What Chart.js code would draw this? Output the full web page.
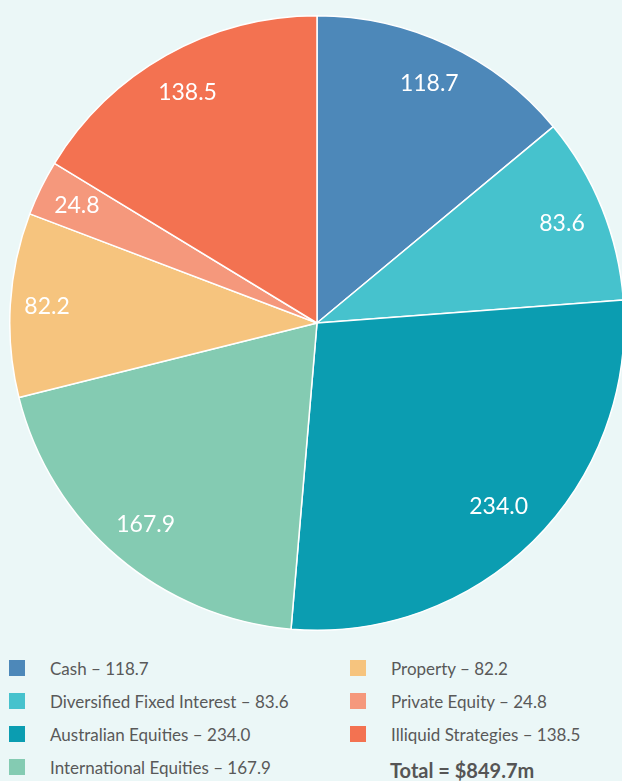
<!DOCTYPE html>
<html>
<head>
<meta charset="utf-8">
<script src="https://cdn.jsdelivr.net/npm/chart.js@4/dist/chart.umd.min.js"></script>
<style>
  html, body { margin: 0; padding: 0; }
  body { width: 622px; height: 781px; background: #ebf7f7; overflow: hidden; position: relative; font-family: Lato, "Open Sans", sans-serif; }
  #pieBox { position: absolute; left: 9px; top: 15px; width: 616px; height: 616px; }
  .leg { position: absolute; display: flex; align-items: center; font-size: 17px; color: #595959; white-space: nowrap; }
  .leg span.sw { display: inline-block; width: 16px; height: 16px; margin-right: 25px; }
  #total { position: absolute; left: 390px; top: 758px; font-size: 20px; font-weight: bold; color: #555; }
</style>
</head>
<body>
<div id="pieBox"><canvas id="canvasPie"></canvas></div>
<div id="legend"></div>
<div id="total"></div>
<script>
var categories = ["Cash", "Diversified Fixed Interest", "Australian Equities", "International Equities", "Property", "Private Equity", "Illiquid Strategies"];
var values = [118.7, 83.6, 234.0, 167.9, 82.2, 24.8, 138.5];
var colours = ["#4d88b9", "#46c2cd", "#0b9db1", "#84cbb2", "#f6c47e", "#f5987c", "#f37251"];
// how far out along the radius each value label sits
var labelRadius = [0.86, 0.86, 0.84, 0.86, 0.88, 0.87, 0.86];
var totalText = "Total = $849.7m";

var myChartPie;

var sliceLabels = {
    id: 'sliceLabels',
    afterDatasetsDraw: function (chart) {
        let ctx = chart.ctx;
        let meta = chart.getDatasetMeta(0);
        ctx.save();
        ctx.fillStyle = "#ffffff";
        ctx.font = "23px Lato, 'Open Sans', sans-serif";
        ctx.textAlign = "center";
        ctx.textBaseline = "middle";
        meta.data.forEach(function (arc, i) {
            let p = arc.getProps(['x', 'y', 'startAngle', 'endAngle', 'outerRadius'], true);
            let mid = (p.startAngle + p.endAngle) / 2;
            let r = p.outerRadius * labelRadius[i];
            ctx.fillText(values[i].toFixed(1), p.x + Math.cos(mid) * r, p.y + Math.sin(mid) * r);
        });
        ctx.restore();
    }
};

function drawPie() {
    try {
        var config = {
            type: 'pie',
            data: {
                labels: categories,
                datasets: [{
                    data: values,
                    backgroundColor: colours,
                    borderColor: '#ffffff',
                    borderWidth: 1.5,
                }],
            },
            options: {
                animation: false,
                responsive: true,
                maintainAspectRatio: false,
                layout: { padding: 0 },
                plugins: {
                    legend: { display: false },
                    tooltip: { enabled: false },
                    title: { display: false }
                }
            },
            plugins: [sliceLabels]
        };
        var ctx = document.getElementById("canvasPie").getContext("2d");
        myChartPie = new Chart(ctx, config);
    } catch (ex) {
        console.log("Error catched by pie: " + ex);
    }
}

function drawLegend() {
    let box = document.getElementById("legend");
    for (let i = 0; i < categories.length; i++) {
        let col = i < 4 ? 0 : 1;
        let row = i < 4 ? i : i - 4;
        let div = document.createElement("div");
        div.className = "leg";
        div.style.left = (col == 0 ? 9 : 350) + "px";
        div.style.top = (656 + row * 33) + "px";
        div.style.height = "24px";
        div.innerHTML = '<span class="sw" style="background:' + colours[i] + '"></span>' +
            categories[i] + ' \u2013 ' + values[i].toFixed(1);
        box.appendChild(div);
    }
    document.getElementById("total").textContent = totalText;
}

drawPie();
drawLegend();
</script>
</body>
</html>
